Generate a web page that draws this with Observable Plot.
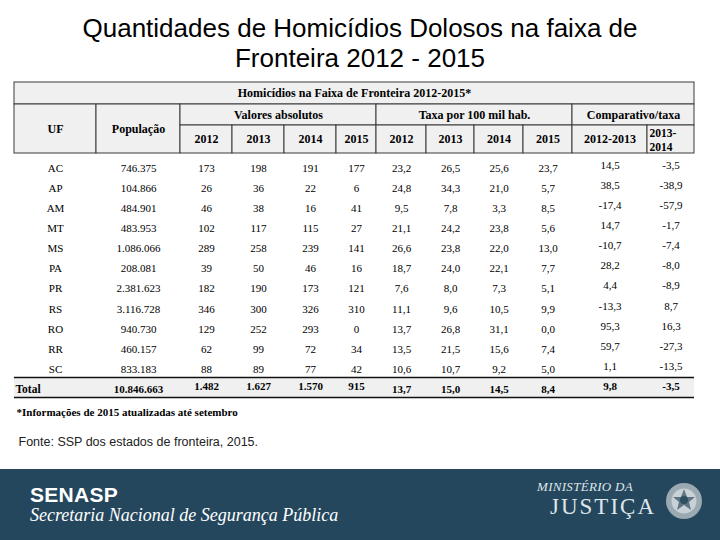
<!DOCTYPE html>
<html><head><meta charset="utf-8">
<script src="https://cdn.jsdelivr.net/npm/d3@7"></script>
<script src="https://cdn.jsdelivr.net/npm/@observablehq/plot@0.6"></script>
<style>
body{margin:0;background:#fff;}
#page{position:relative;width:720px;height:540px;overflow:hidden;background:#fff;}
#title{position:absolute;left:0;top:13px;width:720px;text-align:center;font-family:"Liberation Sans",Arial,sans-serif;font-size:26px;line-height:30px;color:#000;}
#chart{position:absolute;left:0;top:0;}
#banner{position:absolute;left:0;top:469px;width:720px;height:71px;background:#25475d;color:#fff;}
#senasp{position:absolute;left:30px;top:14px;font-family:"Liberation Sans",Arial,sans-serif;font-weight:bold;font-size:21px;line-height:24px;letter-spacing:0.3px;}
#secret{position:absolute;left:30px;top:36px;font-family:"Liberation Serif","Times New Roman",serif;font-style:italic;font-size:18px;line-height:21px;}
#min{position:absolute;left:537px;top:11px;font-family:"Liberation Serif",serif;font-style:italic;font-size:13px;line-height:14px;color:#dfe6ea;letter-spacing:0.3px;}
#jus{position:absolute;left:550px;top:26px;font-family:"Liberation Serif",serif;font-size:23px;line-height:24px;color:#dfe6ea;letter-spacing:2px;}
#emb{position:absolute;left:664px;top:12px;}
</style></head>
<body>
<div id="page">
  <div id="title">Quantidades de Homicídios Dolosos na faixa de<br>Fronteira 2012 - 2015</div>
  <div id="chart"></div>
  <div id="banner">
    <div id="senasp">SENASP</div>
    <div id="secret">Secretaria Nacional de Segurança Pública</div>
    <div id="min">MINISTÉRIO DA</div>
    <div id="jus">JUSTIÇA</div>
    <svg id="emb" width="40" height="40" viewBox="0 0 40 40">
      <circle cx="20" cy="20" r="18" fill="#9aa9b2"/>
      <circle cx="20" cy="20" r="12.5" fill="#c8d1d6"/>
      <polygon points="20,8 23,16 31,16 25,21 27,29 20,24 13,29 15,21 9,16 17,16" fill="#5d7585"/>
      <circle cx="20" cy="19" r="4" fill="#2f4f63"/>
    </svg>
  </div>
</div>
<script>
// ---- data ----
const uf = ["AC","AP","AM","MT","MS","PA","PR","RS","RO","RR","SC"];
const populacao = [746375,104866,484901,483953,1086066,208081,2381623,3116728,940730,460157,833183];
const abs2012 = [173,26,46,102,289,39,182,346,129,62,88];
const abs2013 = [198,36,38,117,258,50,190,300,252,99,89];
const abs2014 = [191,22,16,115,239,46,173,326,293,72,77];
const abs2015 = [177,6,41,27,141,16,121,310,0,34,42];
const taxa2012 = [23.2,24.8,9.5,21.1,26.6,18.7,7.6,11.1,13.7,13.5,10.6];
const taxa2013 = [26.5,34.3,7.8,24.2,23.8,24.0,8.0,9.6,26.8,21.5,10.7];
const taxa2014 = [25.6,21.0,3.3,23.8,22.0,22.1,7.3,10.5,31.1,15.6,9.2];
const taxa2015 = [23.7,5.7,8.5,5.6,13.0,7.7,5.1,9.9,0.0,7.4,5.0];
const comp20122013 = [14.5,38.5,-17.4,14.7,-10.7,28.2,4.4,-13.3,95.3,59.7,1.1];
const comp20132014 = [-3.5,-38.9,-57.9,-1.7,-7.4,-8.0,-8.9,8.7,16.3,-27.3,-13.5];
const totalLabel = "Total";
const totalPop = 10846663;
const totalAbs = [1482,1627,1570,915];
const totalTaxa = [13.7,15.0,14.5,8.4];
const totalComp = [9.8,-3.5];
const tableTitle = "Homicídios na Faixa de Fronteira 2012-2015*";
const headUF = "UF";
const headPop = "População";
const groupLabels = ["Valores absolutos","Taxa por 100 mil hab.","Comparativo/taxa"];
const yearLabels = ["2012","2013","2014","2015"];
const compLabels = ["2012-2013","2013-\n2014"];
const footnote = "*Informações de 2015 atualizadas até setembro";
const fonte = "Fonte: SSP dos estados de fronteira, 2015.";

// ---- layout ----
const edges = [14,96,180,232,284,336,376,426,474,523,572,647,694];
const hRows = [82,104,125,153];
const rowTop = 167.5, rowStep = 20.15, totalY = 389;
const totalBand = [377,397];
const mid = (a,b) => (edges[a]+edges[b])/2;
const rowY = i => rowTop + i*rowStep;

const loc = d3.formatLocale({decimal:",",thousands:".",grouping:[3],currency:["",""],minus:"-"});
const fInt = loc.format(",d");
const f1 = loc.format(".1f");

// header cells
const hcells = [
  {label: tableTitle, c0:0, c1:12, r0:0, r1:1},
  {label: headUF, c0:0, c1:1, r0:1, r1:3},
  {label: headPop, c0:1, c1:2, r0:1, r1:3},
  {label: groupLabels[0], c0:2, c1:6, r0:1, r1:2},
  {label: groupLabels[1], c0:6, c1:10, r0:1, r1:2},
  {label: groupLabels[2], c0:10, c1:12, r0:1, r1:2},
  ...yearLabels.map((y,k)=>({label:y, c0:2+k, c1:3+k, r0:2, r1:3})),
  ...yearLabels.map((y,k)=>({label:y, c0:6+k, c1:7+k, r0:2, r1:3})),
  {label: compLabels[0], c0:10, c1:11, r0:2, r1:3},
  {label: compLabels[1], c0:11, c1:12, r0:2, r1:3, left:true}
].map(d => ({...d, x1:edges[d.c0], x2:edges[d.c1], y1:hRows[d.r0], y2:hRows[d.r1]}));

// body cells
const body = [];
uf.forEach((u,i) => {
  const y = rowY(i);
  body.push({x: mid(0,1), y, t: u, bold:true});
  body.push({x: mid(1,2), y, t: fInt(populacao[i])});
  [abs2012,abs2013,abs2014,abs2015].forEach((a,k)=>body.push({x: mid(2+k,3+k), y, t: fInt(a[i])}));
  [taxa2012,taxa2013,taxa2014,taxa2015].forEach((a,k)=>body.push({x: mid(6+k,7+k), y, t: f1(a[i])}));
  body.push({x: mid(10,11), y: y-3, t: f1(comp20122013[i])});
  body.push({x: mid(11,12), y: y-3, t: f1(comp20132014[i])});
});
const totals = [];
totals.push({x: mid(1,2), y: totalY, t: fInt(totalPop)});
totalAbs.forEach((v,k)=>totals.push({x: mid(2+k,3+k), y: totalY-3, t: fInt(v)}));
totalTaxa.forEach((v,k)=>totals.push({x: mid(6+k,7+k), y: totalY, t: f1(v)}));
totalComp.forEach((v,k)=>totals.push({x: mid(10+k,11+k), y: totalY-3, t: f1(v)}));

const serif = "Liberation Serif, Times New Roman, serif";
const plot = Plot.plot({
  width: 720, height: 470, margin: 0,
  x: {type:"linear", domain:[0,720], range:[0,720], axis:null},
  y: {type:"linear", domain:[0,470], range:[0,470], axis:null},
  style: {fontFamily: serif, background: "transparent"},
  marks: [
    Plot.rect(hcells, {x1:"x1", x2:"x2", y1:"y1", y2:"y2", fill:"#f0f0f0", stroke:"#3a3a3a", strokeWidth:1}),
    Plot.rect([{x1:edges[0], x2:edges[12], y1:totalBand[0], y2:totalBand[1]}], {x1:"x1", x2:"x2", y1:"y1", y2:"y2", fill:"#f0f0f0"}),
    Plot.ruleY(totalBand, {y: d=>d, x1: edges[0], x2: edges[12], stroke:"#111", strokeWidth:1.5}),
    Plot.text(hcells.filter(d=>!d.left), {x: d=>(d.x1+d.x2)/2, y: d=>(d.y1+d.y2)/2, text:"label", fontWeight:"bold", fontSize:12, fill:"#000"}),
    Plot.text(hcells.filter(d=>d.left), {x: d=>d.x1+2, y: d=>(d.y1+d.y2)/2, text:"label", textAnchor:"start", fontWeight:"bold", fontSize:11.5, lineHeight:1.2, fill:"#000"}),
    Plot.text(body, {x:"x", y:"y", text:"t", fontSize:11, fontWeight: d=>d.bold?"bold":"normal", fill:"#000"}),
    Plot.text([{x: edges[0]+1, y: totalY, t: totalLabel}], {x:"x", y:"y", text:"t", textAnchor:"start", fontWeight:"bold", fontSize:11.5, fill:"#000"}),
    Plot.text(totals, {x:"x", y:"y", text:"t", fontWeight:"bold", fontSize:11, fill:"#000"}),
    Plot.text([{x: edges[0]+2, y: 412, t: footnote}], {x:"x", y:"y", text:"t", textAnchor:"start", fontWeight:"bold", fontSize:11, fill:"#000"}),
    Plot.text([{x: edges[0]+4, y: 441, t: fonte}], {x:"x", y:"y", text:"t", textAnchor:"start", fontSize:12.5, fontFamily:"Liberation Sans, Arial, sans-serif", fill:"#222"})
  ]
});
document.getElementById("chart").appendChild(plot);
</script>
</body></html>
